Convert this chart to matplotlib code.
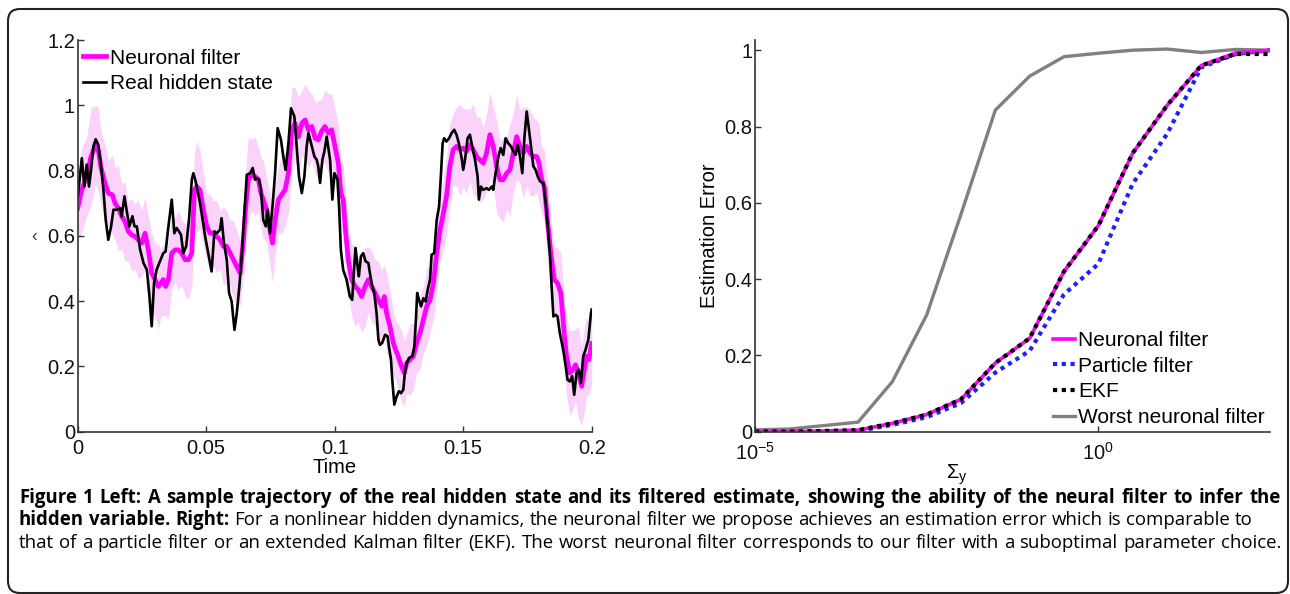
import numpy as np
import matplotlib
matplotlib.use("Agg")
import matplotlib.pyplot as plt
from matplotlib.patches import FancyBboxPatch
from matplotlib.transforms import IdentityTransform
from matplotlib.ticker import NullLocator

plt.rcParams['font.family'] = ['Liberation Sans', 'DejaVu Sans']
plt.rcParams['mathtext.fontset'] = 'custom'
plt.rcParams['mathtext.rm'] = 'Liberation Sans'
plt.rcParams['mathtext.it'] = 'Liberation Sans:italic'
plt.rcParams['mathtext.bf'] = 'Liberation Sans:bold'

# ---- left panel: real hidden state (time in ms) ----
real_t_ms = [0.0, 1.6, 2.6, 3.5, 4.4, 5.2, 6.1, 7.0, 8.0, 9.1,
             10.0, 10.9, 11.9, 13.0, 13.9, 15.2, 16.5, 17.1, 18.2, 19.1,
             20.1, 21.3, 22.1, 23.0, 24.3, 25.6, 26.9, 27.8, 28.8, 29.7,
             30.7, 32.0, 33.3, 34.2, 35.3, 36.6, 37.6, 38.5, 39.4, 40.2,
             41.1, 42.2, 43.3, 44.4, 45.0, 45.9, 47.6, 49.6, 50.8, 52.1,
             53.2, 54.1, 55.4, 56.0, 56.9, 58.0, 58.9, 59.9, 61.0, 61.9,
             62.9, 63.8, 65.1, 65.8, 67.1, 68.1, 69.0, 69.7, 70.6, 71.3,
             72.2, 73.2, 73.9, 74.8, 75.8, 76.8, 77.8, 79.1, 80.0, 80.9,
             82.0, 83.0, 84.3, 85.2, 86.1, 87.2, 88.2, 89.1, 89.8, 91.1,
             92.1, 93.0, 93.6, 94.3, 95.2, 96.0, 96.9, 98.2, 99.1, 99.9,
             101.1, 101.7, 102.4, 103.3, 104.6, 105.9, 106.8, 107.6, 108.1, 108.9,
             109.4, 110.2, 111.1, 112.0, 113.1, 113.7, 114.6, 115.4, 116.3, 117.0,
             117.6, 118.5, 119.6, 120.6, 121.1, 121.9, 122.4, 123.2, 124.1, 125.0,
             125.8, 126.7, 127.3, 128.0, 128.9, 130.2, 131.0, 131.6, 132.1, 132.8,
             133.6, 134.5, 135.4, 136.2, 137.1, 137.7, 138.7, 139.7, 140.6, 141.3,
             142.0, 142.6, 143.5, 144.5, 145.5, 146.5, 147.4, 148.3, 149.4, 150.0,
             150.7, 151.7, 152.6, 153.5, 154.6, 155.6, 156.1, 156.9, 157.8, 159.1,
             160.0, 161.1, 161.7, 162.6, 163.7, 164.6, 165.6, 166.5, 167.5, 168.6,
             169.5, 170.4, 171.2, 172.1, 173.0, 173.8, 174.7, 175.6, 176.6, 177.3,
             178.2, 179.0, 179.9, 181.2, 182.1, 182.9, 183.8, 184.4, 185.1, 186.0,
             186.7, 187.6, 188.9, 189.9, 190.6, 191.5, 192.4, 193.2, 194.1, 195.0,
             195.8, 196.7, 197.6, 198.7, 199.7, 200.0]
real_state = [0.716, 0.838, 0.751, 0.818, 0.751, 0.802, 0.874, 0.896, 0.879, 0.813,
              0.741, 0.649, 0.588, 0.629, 0.680, 0.680, 0.685, 0.660, 0.721, 0.675,
              0.629, 0.660, 0.629, 0.629, 0.557, 0.517, 0.496, 0.425, 0.323, 0.455,
              0.496, 0.522, 0.547, 0.552, 0.629, 0.711, 0.608, 0.624, 0.614, 0.603,
              0.547, 0.568, 0.649, 0.772, 0.792, 0.767, 0.700, 0.598, 0.547, 0.491,
              0.614, 0.608, 0.619, 0.654, 0.578, 0.527, 0.425, 0.399, 0.312, 0.363,
              0.445, 0.537, 0.700, 0.787, 0.792, 0.808, 0.772, 0.777, 0.772, 0.741,
              0.649, 0.629, 0.680, 0.608, 0.690, 0.792, 0.930, 0.894, 0.843, 0.802,
              0.884, 0.991, 0.966, 0.874, 0.782, 0.731, 0.782, 0.874, 0.915, 0.874,
              0.843, 0.833, 0.813, 0.762, 0.833, 0.859, 0.904, 0.833, 0.711, 0.792,
              0.772, 0.690, 0.557, 0.496, 0.466, 0.414, 0.404, 0.506, 0.563, 0.506,
              0.476, 0.537, 0.547, 0.522, 0.517, 0.486, 0.445, 0.425, 0.363, 0.282,
              0.266, 0.272, 0.297, 0.292, 0.261, 0.221, 0.159, 0.083, 0.108, 0.124,
              0.118, 0.129, 0.180, 0.210, 0.226, 0.231, 0.261, 0.343, 0.425, 0.404,
              0.384, 0.409, 0.399, 0.435, 0.466, 0.542, 0.547, 0.649, 0.690, 0.782,
              0.884, 0.899, 0.889, 0.899, 0.915, 0.925, 0.910, 0.884, 0.838, 0.802,
              0.833, 0.899, 0.910, 0.874, 0.833, 0.782, 0.711, 0.751, 0.741, 0.746,
              0.741, 0.751, 0.741, 0.792, 0.843, 0.869, 0.848, 0.899, 0.884, 0.874,
              0.859, 0.848, 0.879, 0.843, 0.792, 0.899, 0.981, 0.925, 0.859, 0.813,
              0.802, 0.782, 0.767, 0.762, 0.700, 0.629, 0.537, 0.445, 0.353, 0.358,
              0.353, 0.302, 0.251, 0.200, 0.159, 0.154, 0.170, 0.113, 0.180, 0.190,
              0.149, 0.231, 0.251, 0.282, 0.363, 0.374]

# ---- left panel: neuronal filter estimate and its spread ----
filt_t_ms = [0.0, 1.6, 3.5, 5.2, 7.0, 8.0, 9.1, 10.6, 11.9, 13.5,
             14.5, 15.8, 17.1, 18.4, 19.7, 21.0, 22.3, 23.6, 24.9, 26.2,
             27.5, 28.8, 30.1, 31.4, 32.4, 33.3, 34.2, 35.3, 36.6, 37.9,
             39.2, 40.5, 41.8, 43.1, 44.4, 45.4, 46.3, 47.6, 48.9, 50.2,
             51.5, 52.8, 54.1, 55.4, 56.7, 58.0, 59.3, 60.6, 61.9, 63.2,
             64.5, 65.4, 66.4, 67.7, 69.0, 70.3, 71.3, 72.2, 73.5, 74.8,
             75.8, 76.8, 78.1, 79.4, 80.7, 82.0, 83.3, 84.6, 85.9, 87.2,
             88.5, 89.8, 91.1, 92.4, 93.6, 94.9, 96.2, 97.5, 98.8, 101.4,
             102.4, 103.3, 104.3, 105.3, 106.6, 107.9, 109.2, 110.5, 111.8, 113.1,
             114.4, 115.7, 117.0, 118.3, 119.3, 120.2, 121.5, 122.8, 123.7, 124.7,
             126.0, 127.1, 128.0, 129.3, 130.6, 131.9, 133.2, 134.5, 135.8, 137.1,
             138.4, 139.7, 141.0, 142.3, 143.5, 144.8, 146.1, 147.4, 148.7, 150.0,
             151.3, 152.6, 153.9, 155.2, 156.5, 157.8, 159.1, 160.4, 161.7, 163.0,
             164.3, 165.6, 166.9, 168.2, 169.5, 170.8, 172.1, 173.4, 174.7, 176.0,
             177.3, 178.6, 179.5, 180.5, 181.6, 182.9, 184.1, 185.4, 186.7, 188.0,
             189.3, 190.2, 191.5, 192.8, 193.7, 194.8, 196.1, 197.1, 198.0, 198.9,
             200.0]
filt_est = [0.685, 0.741, 0.782, 0.843, 0.879, 0.864, 0.808, 0.762, 0.731, 0.726,
            0.700, 0.685, 0.660, 0.644, 0.614, 0.603, 0.598, 0.588, 0.578, 0.608,
            0.557, 0.486, 0.466, 0.445, 0.455, 0.466, 0.445, 0.466, 0.547, 0.557,
            0.557, 0.547, 0.527, 0.527, 0.547, 0.741, 0.751, 0.741, 0.680, 0.629,
            0.608, 0.608, 0.598, 0.588, 0.568, 0.568, 0.547, 0.527, 0.506, 0.486,
            0.588, 0.690, 0.772, 0.787, 0.782, 0.772, 0.731, 0.711, 0.680, 0.619,
            0.578, 0.649, 0.711, 0.726, 0.741, 0.792, 0.925, 0.945, 0.904, 0.945,
            0.955, 0.925, 0.935, 0.899, 0.894, 0.920, 0.935, 0.915, 0.925, 0.823,
            0.731, 0.711, 0.608, 0.527, 0.466, 0.445, 0.435, 0.414, 0.445, 0.466,
            0.445, 0.425, 0.404, 0.384, 0.414, 0.363, 0.323, 0.272, 0.251, 0.231,
            0.200, 0.180, 0.210, 0.221, 0.231, 0.272, 0.302, 0.343, 0.384, 0.404,
            0.455, 0.547, 0.619, 0.670, 0.721, 0.813, 0.864, 0.874, 0.864, 0.869,
            0.859, 0.879, 0.864, 0.843, 0.833, 0.823, 0.854, 0.910, 0.874, 0.813,
            0.772, 0.772, 0.792, 0.802, 0.854, 0.904, 0.874, 0.854, 0.874, 0.854,
            0.843, 0.843, 0.823, 0.772, 0.751, 0.639, 0.547, 0.466, 0.455, 0.425,
            0.302, 0.231, 0.180, 0.190, 0.205, 0.180, 0.139, 0.190, 0.231, 0.221,
            0.270]
filt_spread = [0.10, 0.13, 0.12, 0.15, 0.12, 0.13, 0.11, 0.12, 0.10, 0.12,
               0.11, 0.13, 0.10, 0.12, 0.09, 0.11, 0.10, 0.12, 0.10, 0.11,
               0.10, 0.12, 0.11, 0.13, 0.10, 0.11, 0.09, 0.12, 0.11, 0.10,
               0.12, 0.10, 0.11, 0.12, 0.10, 0.11, 0.14, 0.12, 0.11, 0.10,
               0.12, 0.10, 0.11, 0.09, 0.12, 0.11, 0.10, 0.12, 0.11, 0.10,
               0.11, 0.12, 0.13, 0.11, 0.12, 0.10, 0.11, 0.12, 0.10, 0.11,
               0.12, 0.11, 0.10, 0.12, 0.11, 0.12, 0.13, 0.11, 0.12, 0.10,
               0.11, 0.12, 0.10, 0.11, 0.12, 0.10, 0.11, 0.12, 0.11, 0.12,
               0.10, 0.11, 0.12, 0.10, 0.11, 0.12, 0.10, 0.11, 0.12, 0.10,
               0.11, 0.10, 0.12, 0.11, 0.10, 0.12, 0.11, 0.10, 0.09, 0.10,
               0.11, 0.10, 0.09, 0.11, 0.10, 0.09, 0.11, 0.10, 0.12, 0.10,
               0.11, 0.12, 0.10, 0.11, 0.12, 0.13, 0.11, 0.12, 0.14, 0.12,
               0.13, 0.11, 0.14, 0.12, 0.13, 0.11, 0.12, 0.13, 0.12, 0.14,
               0.12, 0.13, 0.11, 0.14, 0.12, 0.13, 0.11, 0.14, 0.12, 0.13,
               0.12, 0.11, 0.12, 0.10, 0.11, 0.12, 0.11, 0.10, 0.11, 0.12,
               0.11, 0.12, 0.13, 0.12, 0.11, 0.14, 0.12, 0.13, 0.12, 0.11,
               0.12]

# ---- right panel: estimation error vs observation noise ----
sigma_exp = [-5, -4.5, -4, -3.5, -3, -2.5, -2, -1.5, -1, -0.5, 0, 0.5, 1, 1.5, 2, 2.5]
err_neuronal = [0, 0, 0.002, 0.004, 0.022, 0.045, 0.085, 0.18, 0.245, 0.42, 0.54, 0.73, 0.855, 0.96, 0.993, 1.0]
err_particle = [0, 0, 0, 0.002, 0.018, 0.038, 0.075, 0.155, 0.212, 0.36, 0.44, 0.65, 0.78, 0.955, 0.99, 1.0]
err_ekf = [0, 0, 0.002, 0.004, 0.022, 0.045, 0.085, 0.18, 0.245, 0.42, 0.54, 0.73, 0.855, 0.96, 0.99, 0.99]
err_worst = [0.005, 0.007, 0.016, 0.025, 0.131, 0.306, 0.57, 0.843, 0.932, 0.983, 0.992, 1.0, 1.003, 0.994, 1.002, 1.0]

left_xticks = [0, 0.05, 0.1, 0.15, 0.2]
left_xlabels = ['0', '0.05', '0.1', '0.15', '0.2']
left_yticks = [0, 0.2, 0.4, 0.6, 0.8, 1.0, 1.2]
left_ylabels = ['0', '0.2', '0.4', '0.6', '0.8', '1', '1.2']
right_yticks = [0, 0.2, 0.4, 0.6, 0.8, 1.0]
right_ylabels = ['0', '0.2', '0.4', '0.6', '0.8', '1']

W, H = 1290, 594
fig = plt.figure(figsize=(W / 100, H / 100), dpi=100)
fig.patch.set_facecolor('white')

TICK_FS = 14.5
SPINE = '#333333'


def style_axes(ax):
    for s in ['top', 'right']:
        ax.spines[s].set_visible(False)
    for s in ['left', 'bottom']:
        ax.spines[s].set_color(SPINE)
        ax.spines[s].set_linewidth(1.2)
    ax.tick_params(direction='in', length=4, width=1.0, color=SPINE,
                   labelsize=TICK_FS, labelcolor='#111111')
    ax.tick_params(axis='y', pad=2)
    ax.tick_params(axis='x', pad=5)


# left panel
ax1 = fig.add_axes([77.7 / W, 1 - 431.7 / H, 514 / W, 391.7 / H])
t_real = np.array(real_t_ms) / 1000
t_filt = np.array(filt_t_ms) / 1000
est = np.array(filt_est)
spread = np.array(filt_spread)
ax1.fill_between(t_filt, est - spread, est + spread, color='#fad2fa', lw=0)
ax1.plot(t_filt, est, color='#ff00ff', lw=3.4, label='Neuronal filter')
ax1.plot(t_real, real_state, color='black', lw=1.9, label='Real hidden state')
ax1.set_xlim(0, 0.2)
ax1.set_ylim(0, 1.2)
ax1.set_xticks(left_xticks)
ax1.set_xticklabels(left_xlabels)
ax1.set_yticks(left_yticks)
ax1.set_yticklabels(left_ylabels)
style_axes(ax1)
ax1.set_xlabel('Time', fontsize=TICK_FS, labelpad=0)
ax1.legend(loc='upper left', bbox_to_anchor=(0.01, 0.978), frameon=False,
           fontsize=15, borderpad=0, borderaxespad=0, handlelength=1.1,
           handletextpad=0.2, labelspacing=0.3)

# right panel
ax2 = fig.add_axes([755 / W, 1 - 431.7 / H, 515 / W, 391.7 / H])
sig = 10.0 ** np.array(sigma_exp)
h_worst, = ax2.plot(sig, err_worst, color='#808080', lw=2.4)
h_part, = ax2.plot(sig, err_particle, color='#1f1fff', lw=3.0, ls=(0, (1, 1.1)))
h_neur, = ax2.plot(sig, err_neuronal, color='#ff00ff', lw=2.6)
h_ekf, = ax2.plot(sig, err_ekf, color='black', lw=3.0, ls=(0, (1, 1.1)))
ax2.set_xscale('log')
ax2.set_xlim(1e-5, 10 ** 2.5)
ax2.set_ylim(0, 391.7 / 381.5)
ax2.set_xticks([1e-5, 1e0])
ax2.xaxis.set_minor_locator(NullLocator())
ax2.set_yticks(right_yticks)
ax2.set_yticklabels(right_ylabels)
style_axes(ax2)
ax2.tick_params(axis='x', pad=7.5)
ax2.set_ylabel('Estimation Error', fontsize=TICK_FS, labelpad=4)
ax2.set_xlabel(r'$\Sigma_\mathrm{y}$', fontsize=TICK_FS)
ax2.xaxis.set_label_coords(0.392, -0.078)
ax2.legend([h_neur, h_part, h_ekf, h_worst],
           ['Neuronal filter', 'Particle filter', 'EKF', 'Worst neuronal filter'],
           loc='upper left', bbox_to_anchor=(0.579, 0.257), frameon=False,
           fontsize=15, borderpad=0, borderaxespad=0, handlelength=1.05,
           handletextpad=0.15, labelspacing=0.32)

# stray clipped label fragment left of the 0.6 tick
fig.text(34, H - 237, '\u2039', transform=IdentityTransform(), fontsize=12,
         ha='center', va='center', color='#333333')

# rounded frame around the figure panel
frame = FancyBboxPatch((8, 1), 1280, 584, boxstyle='round,pad=0,rounding_size=12',
                       transform=IdentityTransform(), fill=False, ec='#222222', lw=1.5)
fig.add_artist(frame)

# caption
renderer = fig.canvas.get_renderer()
CAP_FS = 13.4
CAP_X0, CAP_X1 = 19, 1281


def measure(s, bold):
    t = fig.text(0, 0, s, transform=IdentityTransform(), fontsize=CAP_FS,
                 family='Open Sans', fontweight='bold' if bold else 'normal')
    w = t.get_window_extent(renderer).width
    t.remove()
    return w


space_w = measure('a a', False) - measure('aa', False)


def caption_line(y_img, tokens, justify):
    words = [(w, b) for text, b in tokens for w in text.split()]
    texts = [fig.text(0, H - y_img, w, transform=IdentityTransform(), fontsize=CAP_FS,
                      family='Open Sans', fontweight='bold' if b else 'normal',
                      va='center', color='black')
             for w, b in words]
    widths = [t.get_window_extent(renderer).width for t in texts]
    gap = space_w
    if justify:
        gap = (CAP_X1 - CAP_X0 - sum(widths)) / (len(words) - 1)
    x = CAP_X0
    for t, w in zip(texts, widths):
        t.set_x(x)
        x += w + gap


caption_line(498, [('Figure 1 Left: A sample trajectory of the real hidden state and its '
                    'filtered estimate, showing the ability of the neural filter to infer the', True)], True)
caption_line(520, [('hidden variable.', True), ('Right:', True),
                   ('For a nonlinear hidden dynamics, the neuronal filter we propose achieves '
                    'an estimation error which is comparable to', False)], False)
caption_line(543, [('that of a particle filter or an extended Kalman filter (EKF). The worst neuronal '
                    'filter corresponds to our filter with a suboptimal parameter choice.', False)], True)

fig.savefig('out.png', dpi=100, facecolor='white')
